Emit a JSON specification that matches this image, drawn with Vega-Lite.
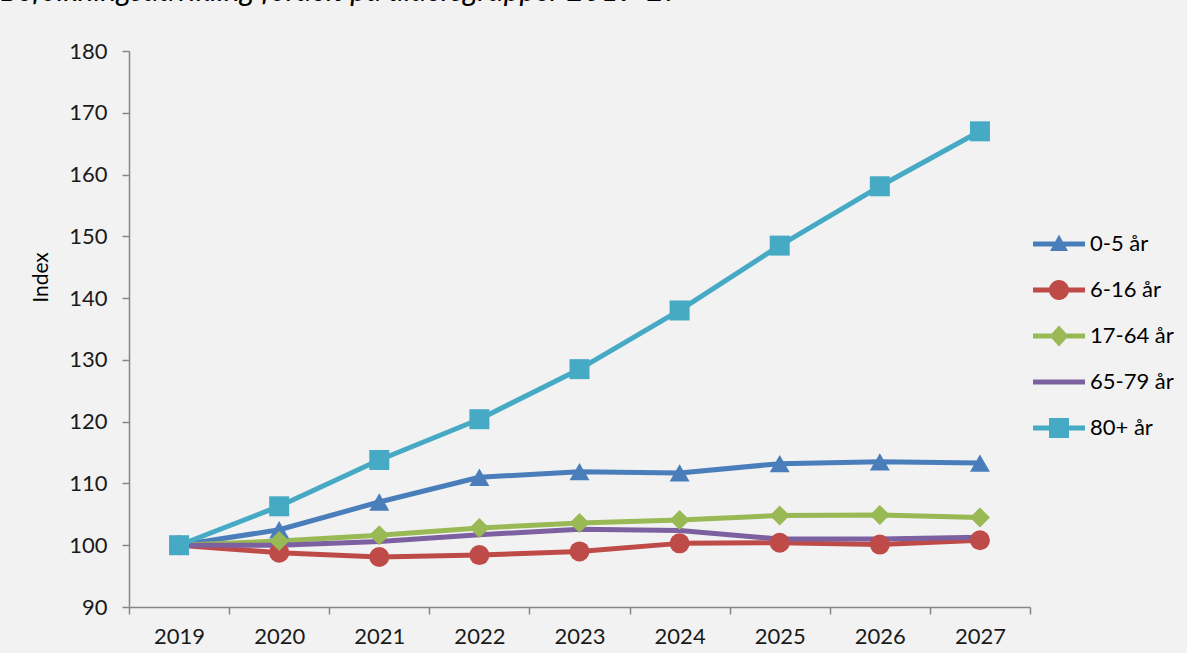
{
  "$schema": "https://vega.github.io/schema/vega-lite/v6.json",
  "width": 901,
  "height": 556,
  "autosize": "none",
  "padding": {"left": 129, "top": 51, "right": 157, "bottom": 46},
  "background": "#f2f2f2",
  "title": {
    "text": "Befolkningsudvikling fordelt på aldersgrupper 2019-27",
    "anchor": "start",
    "frame": "group",
    "font": "Lato",
    "fontStyle": "italic",
    "fontWeight": "normal",
    "fontSize": 30,
    "color": "#000000",
    "baseline": "alphabetic",
    "dx": -129,
    "dy": 5,
    "offset": 14
  },
  "config": {"view": {"stroke": null}, "font": "Lato"},
  "data": {
    "values": [
      {"year": "2019", "series": "0-5 år", "index": 100},
      {"year": "2020", "series": "0-5 år", "index": 102.5},
      {"year": "2021", "series": "0-5 år", "index": 107.0},
      {"year": "2022", "series": "0-5 år", "index": 111.0},
      {"year": "2023", "series": "0-5 år", "index": 111.9},
      {"year": "2024", "series": "0-5 år", "index": 111.7},
      {"year": "2025", "series": "0-5 år", "index": 113.2},
      {"year": "2026", "series": "0-5 år", "index": 113.5},
      {"year": "2027", "series": "0-5 år", "index": 113.3},
      {"year": "2019", "series": "6-16 år", "index": 100},
      {"year": "2020", "series": "6-16 år", "index": 98.8},
      {"year": "2021", "series": "6-16 år", "index": 98.1},
      {"year": "2022", "series": "6-16 år", "index": 98.4},
      {"year": "2023", "series": "6-16 år", "index": 99.0},
      {"year": "2024", "series": "6-16 år", "index": 100.3},
      {"year": "2025", "series": "6-16 år", "index": 100.4},
      {"year": "2026", "series": "6-16 år", "index": 100.1},
      {"year": "2027", "series": "6-16 år", "index": 100.8},
      {"year": "2019", "series": "17-64 år", "index": 100},
      {"year": "2020", "series": "17-64 år", "index": 100.7},
      {"year": "2021", "series": "17-64 år", "index": 101.6},
      {"year": "2022", "series": "17-64 år", "index": 102.8},
      {"year": "2023", "series": "17-64 år", "index": 103.6},
      {"year": "2024", "series": "17-64 år", "index": 104.1},
      {"year": "2025", "series": "17-64 år", "index": 104.8},
      {"year": "2026", "series": "17-64 år", "index": 104.9},
      {"year": "2027", "series": "17-64 år", "index": 104.5},
      {"year": "2019", "series": "65-79 år", "index": 100},
      {"year": "2020", "series": "65-79 år", "index": 100.0},
      {"year": "2021", "series": "65-79 år", "index": 100.6},
      {"year": "2022", "series": "65-79 år", "index": 101.7},
      {"year": "2023", "series": "65-79 år", "index": 102.6},
      {"year": "2024", "series": "65-79 år", "index": 102.4},
      {"year": "2025", "series": "65-79 år", "index": 101.0},
      {"year": "2026", "series": "65-79 år", "index": 101.0},
      {"year": "2027", "series": "65-79 år", "index": 101.3},
      {"year": "2019", "series": "80+ år", "index": 100},
      {"year": "2020", "series": "80+ år", "index": 106.3},
      {"year": "2021", "series": "80+ år", "index": 113.8},
      {"year": "2022", "series": "80+ år", "index": 120.4},
      {"year": "2023", "series": "80+ år", "index": 128.5},
      {"year": "2024", "series": "80+ år", "index": 138.0},
      {"year": "2025", "series": "80+ år", "index": 148.5},
      {"year": "2026", "series": "80+ år", "index": 158.1},
      {"year": "2027", "series": "80+ år", "index": 167.0}
    ]
  },
  "encoding": {
    "x": {
      "field": "year",
      "type": "ordinal",
      "scale": {"type": "band", "paddingInner": 0, "paddingOuter": 0},
      "axis": {
        "title": null,
        "labelAngle": 0,
        "tickBand": "extent",
        "grid": false,
        "domainColor": "#868686",
        "domainWidth": 1.5,
        "tickColor": "#868686",
        "tickWidth": 1.5,
        "tickSize": 7,
        "labelFont": "Lato",
        "labelFontSize": 22,
        "labelColor": "#1a1a1a",
        "labelPadding": 12
      }
    },
    "y": {
      "field": "index",
      "type": "quantitative",
      "scale": {"domain": [90, 180], "nice": false, "zero": false},
      "axis": {
        "title": "Index",
        "values": [90, 100, 110, 120, 130, 140, 150, 160, 170, 180],
        "grid": false,
        "domainColor": "#868686",
        "domainWidth": 1.5,
        "tickColor": "#868686",
        "tickWidth": 1.5,
        "tickSize": 7,
        "labelFont": "Lato",
        "labelFontSize": 22,
        "labelColor": "#1a1a1a",
        "labelPadding": 15,
        "titleFont": "Lato",
        "titleFontSize": 21,
        "titleFontWeight": "normal",
        "titleColor": "#000000",
        "titleBaseline": "alphabetic",
        "titleX": -82,
        "titleY": 226
      }
    }
  },
  "layer": [
    {
      "mark": {"type": "line", "strokeWidth": 5, "strokeJoin": "round", "strokeCap": "round"},
      "encoding": {
        "color": {
          "field": "series",
          "type": "nominal",
          "scale": {
            "domain": ["0-5 år", "6-16 år", "17-64 år", "65-79 år", "80+ år"],
            "range": ["#4a7ebb", "#be4b48", "#98b954", "#7d60a0", "#46aac5"]
          },
          "legend": null
        }
      }
    },
    {
      "transform": [{"filter": "datum.series !== '65-79 år'"}],
      "mark": {"type": "point", "filled": true, "opacity": 1, "size": 400},
      "encoding": {
        "color": {
          "field": "series",
          "type": "nominal",
          "scale": {
            "domain": ["0-5 år", "6-16 år", "17-64 år", "65-79 år", "80+ år"],
            "range": ["#4a7ebb", "#be4b48", "#98b954", "#7d60a0", "#46aac5"]
          },
          "legend": null
        },
        "shape": {
          "field": "series",
          "type": "nominal",
          "scale": {
            "domain": ["0-5 år", "6-16 år", "17-64 år", "65-79 år", "80+ år"],
            "range": ["triangle-up", "circle", "diamond", "circle", "square"]
          },
          "legend": null
        }
      }
    },
    {
      "transform": [{"filter": "false"}],
      "mark": {"type": "point", "filled": true, "opacity": 1, "size": 400},
      "encoding": {
        "color": {
          "field": "series",
          "type": "nominal",
          "scale": {
            "domain": ["0-5 år", "6-16 år", "17-64 år", "65-79 år", "80+ år"],
            "range": ["#4a7ebb", "#be4b48", "#98b954", "#7d60a0", "#46aac5"]
          },
          "legend": {
            "title": null,
            "orient": "none",
            "legendX": 919,
            "legendY": 182,
            "padding": 0,
            "symbolSize": 400,
            "symbolStrokeWidth": 0,
            "symbolOpacity": 1,
            "labelOffset": 20,
            "labelFont": "Lato",
            "labelFontSize": 22,
            "labelColor": "#000000",
            "rowPadding": 24
          }
        },
        "shape": {
          "field": "series",
          "type": "nominal",
          "scale": {
            "domain": ["0-5 år", "6-16 år", "17-64 år", "65-79 år", "80+ år"],
            "range": [
              "M-2.6,-0.25L2.6,-0.25L2.6,0.25L-2.6,0.25Z M0,-0.95L0.9,0.7L-0.9,0.7Z",
              "M-2.6,-0.25L2.6,-0.25L2.6,0.25L-2.6,0.25Z M-1,0A1,1 0 1,1 1,0A1,1 0 1,1 -1,0Z",
              "M-2.6,-0.25L2.6,-0.25L2.6,0.25L-2.6,0.25Z M0,-1.05L0.95,0L0,1.05L-0.95,0Z",
              "M-2.6,-0.25L2.6,-0.25L2.6,0.25L-2.6,0.25Z",
              "M-2.6,-0.25L2.6,-0.25L2.6,0.25L-2.6,0.25Z M-1,-1L1,-1L1,1L-1,1Z"
            ]
          },
          "legend": {
            "title": null,
            "orient": "none",
            "legendX": 919,
            "legendY": 182,
            "padding": 0,
            "symbolSize": 400,
            "symbolStrokeWidth": 0,
            "symbolOpacity": 1,
            "labelOffset": 20,
            "labelFont": "Lato",
            "labelFontSize": 22,
            "labelColor": "#000000",
            "rowPadding": 24
          }
        }
      }
    }
  ],
  "resolve": {"scale": {"color": "independent", "shape": "independent"}}
}
